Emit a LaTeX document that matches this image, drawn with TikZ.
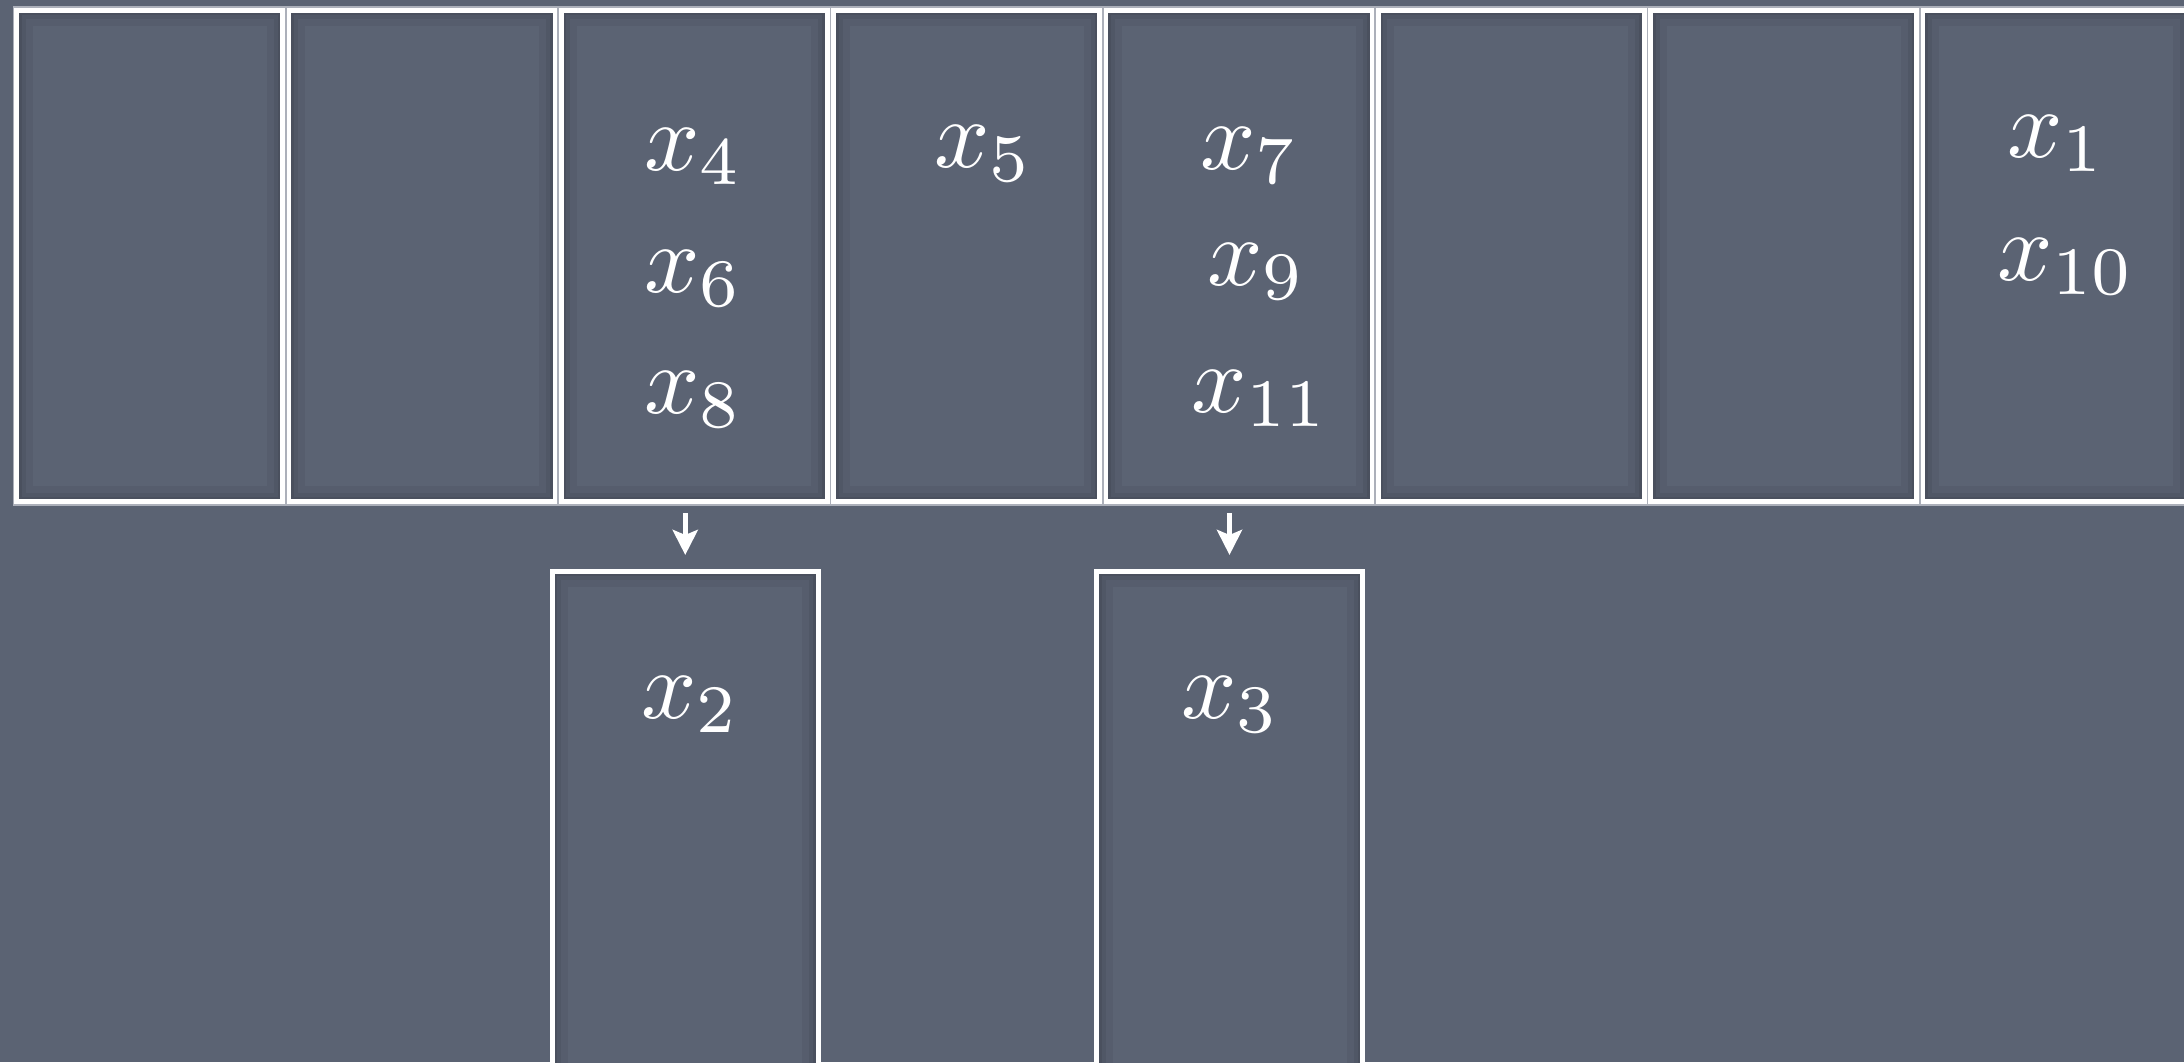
\documentclass[tikz,border=0pt]{standalone}
\usepackage{graphicx}
\usetikzlibrary{arrows.meta}
\definecolor{board}{RGB}{91,99,115}
\definecolor{rim}{RGB}{172,176,186}
\newcommand{\bigmath}[1]{\scalebox{4.85}{$#1$}}
\begin{document}
\begin{tikzpicture}[x=0.5pt,y=-0.5pt,
  cell/.style={draw=white, line width=2.3pt, fill=board, inner sep=0pt,
    minimum width=133pt, minimum height=245.7pt,
    path picture={
      \draw[black, opacity=.05, line width=16pt]
        (path picture bounding box.south west) rectangle (path picture bounding box.north east);
      \draw[black, opacity=.06, line width=9pt]
        (path picture bounding box.south west) rectangle (path picture bounding box.north east);
      \draw[black, opacity=.07, line width=5pt]
        (path picture bounding box.south west) rectangle (path picture bounding box.north east);}},
  lbl/.style={text=white, anchor=base, inner sep=0pt},
  arr/.style={draw=white, line width=2.6pt, -{Stealth[length=12.5pt, width=12.5pt, inset=2.5pt]},
    shorten <=4.5pt, shorten >=7pt}]
\useasboundingbox (0,0) rectangle (2184,1062);
\clip (0,0) rectangle (2184,1062);
\fill[board] (0,0) rectangle (2184,1062);
% light frame behind the top row
\fill[rim] (12.5,6) rectangle (2200,506);
\foreach \k in {0,...,7}
  \node[cell] (c\k) at ({149.75+272.3*\k},256) {};
% lower boxes
\node[cell, minimum height=264.35pt] (b2) at (685.25,835.6) {};
\node[cell, minimum height=264.35pt] (b3) at (1229.5,835.6) {};
% arrows
\draw[arr] (b2.north |- c2.south) -- (b2.north);
\draw[arr] (b3.north |- c4.south) -- (b3.north);
% labels
\node[lbl] (t4) at (694,170) {\bigmath{x_4}};
\node[lbl] (t6) at (694,292) {\bigmath{x_6}};
\node[lbl] (t8) at (694,413) {\bigmath{x_8}};
\node[lbl] (t5) at (984,167) {\bigmath{x_5}};
\node[lbl] (t7) at (1250,169) {\bigmath{x_7}};
\node[lbl] (t9) at (1257,285) {\bigmath{x_9}};
\node[lbl] (t11) at (1260,412) {\bigmath{x_{11}}};
\node[lbl] (t1) at (2057,157) {\bigmath{x_1}};
\node[lbl] (t10) at (2066,280) {\bigmath{x_{10}}};
\node[lbl] (t2) at (691,718) {\bigmath{x_2}};
\node[lbl] (t3) at (1231,718) {\bigmath{x_3}};
\end{tikzpicture}
\end{document}
